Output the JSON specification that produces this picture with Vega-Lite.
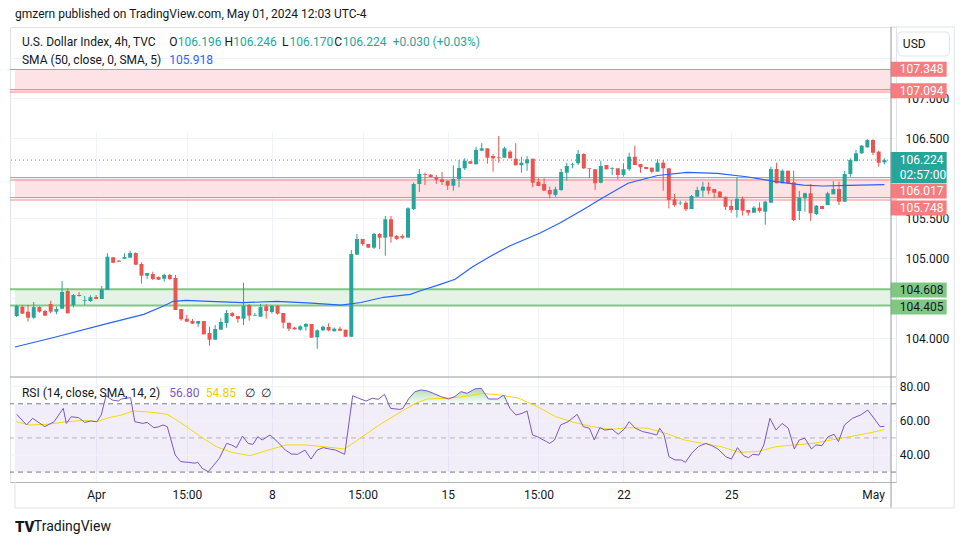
{
"$schema":"https://vega.github.io/schema/vega-lite/v6.json",
"width":886,"height":455,
"autosize":{"type":"none"},
"padding":{"left":10,"top":27,"right":74,"bottom":63},
"background":"#ffffff",
"config":{"view":{"stroke":"#e0e3eb","strokeWidth":1},"font":"Roboto","axis":{"labelFont":"Roboto"},"text":{"font":"Roboto"}},
"datasets":{
"candles":[
{"i":1,"o":104.275,"h":104.412,"l":104.262,"c":104.4},
{"i":2,"o":104.391,"h":104.406,"l":104.3,"c":104.304},
{"i":3,"o":104.329,"h":104.412,"l":104.204,"c":104.254},
{"i":4,"o":104.254,"h":104.45,"l":104.234,"c":104.387},
{"i":5,"o":104.387,"h":104.396,"l":104.316,"c":104.329},
{"i":6,"o":104.338,"h":104.35,"l":104.279,"c":104.279},
{"i":7,"o":104.425,"h":104.466,"l":104.309,"c":104.329},
{"i":8,"o":104.329,"h":104.391,"l":104.296,"c":104.362},
{"i":9,"o":104.366,"h":104.712,"l":104.366,"c":104.575},
{"i":10,"o":104.588,"h":104.621,"l":104.304,"c":104.309},
{"i":11,"o":104.412,"h":104.55,"l":104.384,"c":104.538},
{"i":12,"o":104.538,"h":104.575,"l":104.519,"c":104.525},
{"i":13,"o":104.466,"h":104.525,"l":104.412,"c":104.475},
{"i":14,"o":104.462,"h":104.534,"l":104.45,"c":104.509},
{"i":15,"o":104.512,"h":104.538,"l":104.484,"c":104.488},
{"i":16,"o":104.488,"h":104.65,"l":104.488,"c":104.609},
{"i":17,"o":104.6,"h":105.059,"l":104.6,"c":105.016},
{"i":18,"o":105.009,"h":105.012,"l":104.938,"c":104.941},
{"i":19,"o":104.966,"h":104.975,"l":104.95,"c":104.954},
{"i":20,"o":104.991,"h":105.059,"l":104.991,"c":105.012},
{"i":21,"o":105.004,"h":105.091,"l":105.004,"c":105.062},
{"i":22,"o":105.062,"h":105.071,"l":104.916,"c":104.916},
{"i":23,"o":104.925,"h":104.946,"l":104.679,"c":104.779},
{"i":24,"o":104.779,"h":104.812,"l":104.738,"c":104.812},
{"i":25,"o":104.8,"h":104.829,"l":104.725,"c":104.738},
{"i":26,"o":104.762,"h":104.769,"l":104.725,"c":104.729},
{"i":27,"o":104.741,"h":104.8,"l":104.704,"c":104.788},
{"i":28,"o":104.788,"h":104.8,"l":104.725,"c":104.738},
{"i":29,"o":104.75,"h":104.788,"l":104.35,"c":104.35},
{"i":30,"o":104.362,"h":104.362,"l":104.216,"c":104.234},
{"i":31,"o":104.241,"h":104.288,"l":104.204,"c":104.204},
{"i":32,"o":104.212,"h":104.238,"l":104.179,"c":104.179},
{"i":33,"o":104.179,"h":104.212,"l":104.141,"c":104.212},
{"i":34,"o":104.212,"h":104.212,"l":104.046,"c":104.046},
{"i":35,"o":104.062,"h":104.141,"l":103.904,"c":103.979},
{"i":36,"o":103.979,"h":104.162,"l":103.979,"c":104.112},
{"i":37,"o":104.104,"h":104.246,"l":104.104,"c":104.2},
{"i":38,"o":104.188,"h":104.35,"l":104.129,"c":104.312},
{"i":39,"o":104.312,"h":104.325,"l":104.259,"c":104.275},
{"i":40,"o":104.275,"h":104.275,"l":104.191,"c":104.238},
{"i":41,"o":104.241,"h":104.691,"l":104.162,"c":104.4},
{"i":42,"o":104.412,"h":104.425,"l":104.216,"c":104.279},
{"i":43,"o":104.279,"h":104.312,"l":104.279,"c":104.288},
{"i":44,"o":104.266,"h":104.425,"l":104.266,"c":104.387},
{"i":45,"o":104.396,"h":104.425,"l":104.241,"c":104.338},
{"i":46,"o":104.325,"h":104.412,"l":104.304,"c":104.4},
{"i":47,"o":104.4,"h":104.412,"l":104.291,"c":104.304},
{"i":48,"o":104.312,"h":104.312,"l":104.121,"c":104.191},
{"i":49,"o":104.191,"h":104.191,"l":104.087,"c":104.116},
{"i":50,"o":104.129,"h":104.141,"l":104.104,"c":104.109},
{"i":51,"o":104.104,"h":104.159,"l":104.091,"c":104.146},
{"i":52,"o":104.141,"h":104.188,"l":104.091,"c":104.175},
{"i":53,"o":104.175,"h":104.175,"l":104.004,"c":104.004},
{"i":54,"o":104.009,"h":104.109,"l":103.866,"c":104.096},
{"i":55,"o":104.096,"h":104.154,"l":104.087,"c":104.141},
{"i":56,"o":104.138,"h":104.184,"l":104.084,"c":104.096},
{"i":57,"o":104.084,"h":104.129,"l":104.084,"c":104.116},
{"i":58,"o":104.116,"h":104.141,"l":104.091,"c":104.091},
{"i":59,"o":104.104,"h":104.104,"l":104.016,"c":104.016},
{"i":60,"o":104.016,"h":105.1,"l":104.016,"c":105.05},
{"i":61,"o":105.041,"h":105.3,"l":105.041,"c":105.238},
{"i":62,"o":105.238,"h":105.238,"l":105.154,"c":105.175},
{"i":63,"o":105.175,"h":105.175,"l":105.129,"c":105.129},
{"i":64,"o":105.129,"h":105.316,"l":105.112,"c":105.3},
{"i":65,"o":105.3,"h":105.312,"l":105.112,"c":105.254},
{"i":66,"o":105.254,"h":105.525,"l":105.029,"c":105.484},
{"i":67,"o":105.484,"h":105.525,"l":105.191,"c":105.266},
{"i":68,"o":105.275,"h":105.288,"l":105.225,"c":105.238},
{"i":69,"o":105.275,"h":105.296,"l":105.238,"c":105.254},
{"i":70,"o":105.254,"h":105.634,"l":105.254,"c":105.621},
{"i":71,"o":105.612,"h":105.946,"l":105.6,"c":105.925},
{"i":72,"o":105.925,"h":106.112,"l":105.825,"c":106.05},
{"i":73,"o":106.05,"h":106.066,"l":105.912,"c":106.041},
{"i":74,"o":106.041,"h":106.05,"l":106.009,"c":106.012},
{"i":75,"o":106.012,"h":106.038,"l":105.929,"c":105.979},
{"i":76,"o":105.984,"h":106.075,"l":105.912,"c":105.95},
{"i":77,"o":105.966,"h":105.966,"l":105.85,"c":105.904},
{"i":78,"o":105.904,"h":106.159,"l":105.841,"c":105.988},
{"i":79,"o":105.988,"h":106.225,"l":105.884,"c":106.125},
{"i":80,"o":106.121,"h":106.246,"l":106.1,"c":106.216},
{"i":81,"o":106.209,"h":106.209,"l":106.179,"c":106.179},
{"i":82,"o":106.171,"h":106.391,"l":106.171,"c":106.35},
{"i":83,"o":106.341,"h":106.434,"l":106.341,"c":106.371},
{"i":84,"o":106.371,"h":106.371,"l":106.179,"c":106.254},
{"i":85,"o":106.275,"h":106.3,"l":106.079,"c":106.246},
{"i":86,"o":106.262,"h":106.525,"l":106.191,"c":106.254},
{"i":87,"o":106.254,"h":106.391,"l":106.254,"c":106.371},
{"i":88,"o":106.329,"h":106.35,"l":106.246,"c":106.246},
{"i":89,"o":106.241,"h":106.434,"l":106.159,"c":106.159},
{"i":90,"o":106.159,"h":106.266,"l":106.066,"c":106.191},
{"i":91,"o":106.184,"h":106.275,"l":106.091,"c":106.234},
{"i":92,"o":106.241,"h":106.241,"l":105.884,"c":105.941},
{"i":93,"o":105.954,"h":105.996,"l":105.9,"c":105.9},
{"i":94,"o":105.925,"h":105.996,"l":105.841,"c":105.841},
{"i":95,"o":105.85,"h":105.891,"l":105.746,"c":105.796},
{"i":96,"o":105.788,"h":105.891,"l":105.766,"c":105.859},
{"i":97,"o":105.85,"h":106.116,"l":105.838,"c":106.075},
{"i":98,"o":106.066,"h":106.191,"l":105.966,"c":106.15},
{"i":99,"o":106.162,"h":106.191,"l":106.121,"c":106.171},
{"i":100,"o":106.184,"h":106.35,"l":106.162,"c":106.3},
{"i":101,"o":106.3,"h":106.309,"l":106.112,"c":106.121},
{"i":102,"o":106.121,"h":106.121,"l":105.996,"c":106.112},
{"i":103,"o":106.109,"h":106.109,"l":105.85,"c":105.934},
{"i":104,"o":105.941,"h":106.216,"l":105.934,"c":106.15},
{"i":105,"o":106.162,"h":106.162,"l":106.109,"c":106.109},
{"i":106,"o":106.116,"h":106.134,"l":106.038,"c":106.125},
{"i":107,"o":106.121,"h":106.121,"l":105.984,"c":106.038},
{"i":108,"o":106.038,"h":106.184,"l":106.016,"c":106.109},
{"i":109,"o":106.109,"h":106.316,"l":106.091,"c":106.266},
{"i":110,"o":106.266,"h":106.404,"l":106.162,"c":106.162},
{"i":111,"o":106.175,"h":106.175,"l":106.066,"c":106.134},
{"i":112,"o":106.138,"h":106.138,"l":106.112,"c":106.112},
{"i":113,"o":106.129,"h":106.129,"l":106.059,"c":106.079},
{"i":114,"o":106.079,"h":106.234,"l":106.079,"c":106.191},
{"i":115,"o":106.191,"h":106.225,"l":105.841,"c":106.121},
{"i":116,"o":106.121,"h":106.121,"l":105.621,"c":105.725},
{"i":117,"o":105.734,"h":105.8,"l":105.641,"c":105.662},
{"i":118,"o":105.684,"h":105.716,"l":105.662,"c":105.691},
{"i":119,"o":105.691,"h":105.712,"l":105.588,"c":105.609},
{"i":120,"o":105.612,"h":105.788,"l":105.612,"c":105.775},
{"i":121,"o":105.766,"h":105.891,"l":105.766,"c":105.85},
{"i":122,"o":105.841,"h":105.954,"l":105.766,"c":105.891},
{"i":123,"o":105.891,"h":105.946,"l":105.796,"c":105.841},
{"i":124,"o":105.862,"h":105.862,"l":105.746,"c":105.816},
{"i":125,"o":105.829,"h":105.838,"l":105.754,"c":105.754},
{"i":126,"o":105.766,"h":105.766,"l":105.6,"c":105.641},
{"i":127,"o":105.65,"h":105.725,"l":105.566,"c":105.6},
{"i":128,"o":105.6,"h":106.004,"l":105.504,"c":105.741},
{"i":129,"o":105.741,"h":105.766,"l":105.529,"c":105.591},
{"i":130,"o":105.6,"h":105.6,"l":105.529,"c":105.566},
{"i":131,"o":105.566,"h":105.65,"l":105.566,"c":105.629},
{"i":132,"o":105.629,"h":105.696,"l":105.566,"c":105.588},
{"i":133,"o":105.579,"h":105.716,"l":105.416,"c":105.704},
{"i":134,"o":105.691,"h":106.141,"l":105.691,"c":106.112},
{"i":135,"o":106.112,"h":106.191,"l":105.934,"c":105.934},
{"i":136,"o":105.934,"h":106.109,"l":105.934,"c":106.091},
{"i":137,"o":106.091,"h":106.091,"l":105.934,"c":105.934},
{"i":138,"o":105.946,"h":106.091,"l":105.462,"c":105.475},
{"i":139,"o":105.588,"h":105.838,"l":105.475,"c":105.754},
{"i":140,"o":105.746,"h":105.816,"l":105.579,"c":105.809},
{"i":141,"o":105.809,"h":105.925,"l":105.466,"c":105.559},
{"i":142,"o":105.55,"h":105.662,"l":105.537,"c":105.654},
{"i":143,"o":105.65,"h":105.65,"l":105.612,"c":105.612},
{"i":144,"o":105.662,"h":105.829,"l":105.662,"c":105.809},
{"i":145,"o":105.796,"h":105.962,"l":105.796,"c":105.862},
{"i":146,"o":105.862,"h":105.954,"l":105.662,"c":105.704},
{"i":147,"o":105.704,"h":106.088,"l":105.704,"c":106.05},
{"i":148,"o":106.05,"h":106.246,"l":106.016,"c":106.225},
{"i":149,"o":106.212,"h":106.35,"l":106.204,"c":106.309},
{"i":150,"o":106.309,"h":106.412,"l":106.3,"c":106.404},
{"i":151,"o":106.384,"h":106.484,"l":106.379,"c":106.475},
{"i":152,"o":106.475,"h":106.484,"l":106.287,"c":106.316},
{"i":153,"o":106.329,"h":106.341,"l":106.141,"c":106.191},
{"i":154,"o":106.196,"h":106.246,"l":106.17,"c":106.224}
],
"sma":[
{"i":0.7,"v":103.888},{"i":7.7,"v":104.009},{"i":16.4,"v":104.171},{"i":23.4,"v":104.296},{"i":26.9,"v":104.4},{"i":28.6,"v":104.459},{"i":30.9,"v":104.471},{"i":33.8,"v":104.462},{"i":40.8,"v":104.441},{"i":46.9,"v":104.459},{"i":53.0,"v":104.437},{"i":58.2,"v":104.412},{"i":61.7,"v":104.444},{"i":65.7,"v":104.509},{"i":70.4,"v":104.546},{"i":72.2,"v":104.591},{"i":75.7,"v":104.671},{"i":78.3,"v":104.734},{"i":81.4,"v":104.891},{"i":84.4,"v":105.016},{"i":87.9,"v":105.15},{"i":93.2,"v":105.309},{"i":96.7,"v":105.434},{"i":101.0,"v":105.61},{"i":104.2,"v":105.746},{"i":108.8,"v":105.934},{"i":114.0,"v":106.031},{"i":119.2,"v":106.071},{"i":124.5,"v":106.059},{"i":129.7,"v":106.016},{"i":134.9,"v":105.954},{"i":139.7,"v":105.912},{"i":143.2,"v":105.9},{"i":147.7,"v":105.909},{"i":154,"v":105.918}
],
"rsi":[
{"i":1,"v":63.8},{"i":2.74,"v":57.6},{"i":3.81,"v":61.5},{"i":5.97,"v":56.6},{"i":7.59,"v":59.5},{"i":9.21,"v":67.3},{"i":9.75,"v":58.5},{"i":10.61,"v":62.4},{"i":11.91,"v":61.9},{"i":12.99,"v":59.1},{"i":14.06,"v":59.9},{"i":15.14,"v":59.5},{"i":15.9,"v":63.4},{"i":16.76,"v":74.7},{"i":17.84,"v":72.2},{"i":18.92,"v":71.6},{"i":19.46,"v":72.8},{"i":21.08,"v":73.6},{"i":21.83,"v":59.5},{"i":23.23,"v":58.5},{"i":23.99,"v":59.1},{"i":25.18,"v":56.0},{"i":25.93,"v":56.4},{"i":26.79,"v":57.6},{"i":27.55,"v":56.6},{"i":28.95,"v":40.0},{"i":29.92,"v":36.1},{"i":31.33,"v":35.7},{"i":32.4,"v":35.2},{"i":32.94,"v":35.7},{"i":33.7,"v":32.2},{"i":34.78,"v":30.2},{"i":36.72,"v":38.0},{"i":38.02,"v":46.8},{"i":38.88,"v":45.9},{"i":39.74,"v":44.3},{"i":40.82,"v":51.1},{"i":41.79,"v":46.8},{"i":42.65,"v":46.2},{"i":43.52,"v":50.7},{"i":44.27,"v":48.8},{"i":45.67,"v":51.7},{"i":46.97,"v":47.8},{"i":48.37,"v":42.9},{"i":49.45,"v":40.6},{"i":50.53,"v":40.4},{"i":51.82,"v":42.9},{"i":52.9,"v":37.6},{"i":53.98,"v":42.9},{"i":55.06,"v":44.3},{"i":56.14,"v":43.5},{"i":57.22,"v":42.9},{"i":58.84,"v":40.4},{"i":60.24,"v":74.7},{"i":61.32,"v":73.2},{"i":62.61,"v":71.6},{"i":63.69,"v":73.2},{"i":64.77,"v":72.6},{"i":65.85,"v":75.5},{"i":66.93,"v":67.3},{"i":68.55,"v":66.7},{"i":69.09,"v":67.3},{"i":70.17,"v":73.2},{"i":71.24,"v":77.1},{"i":72.32,"v":78.1},{"i":73.4,"v":77.5},{"i":74.48,"v":76.1},{"i":75.78,"v":74.2},{"i":77.18,"v":72.8},{"i":78.26,"v":74.2},{"i":79.34,"v":77.1},{"i":80.41,"v":76.1},{"i":81.82,"v":78.7},{"i":82.9,"v":79.1},{"i":84.19,"v":72.8},{"i":85.81,"v":72.8},{"i":86.89,"v":75.1},{"i":87.97,"v":67.3},{"i":89.04,"v":63.4},{"i":90.12,"v":64.4},{"i":90.99,"v":65.8},{"i":91.96,"v":51.7},{"i":92.82,"v":50.7},{"i":94.44,"v":47.8},{"i":94.98,"v":46.8},{"i":95.84,"v":48.8},{"i":96.92,"v":57.6},{"i":98.22,"v":59.5},{"i":99.83,"v":63.8},{"i":100.91,"v":56.6},{"i":101.99,"v":55.7},{"i":102.85,"v":48.8},{"i":103.83,"v":56.0},{"i":104.69,"v":54.6},{"i":105.98,"v":55.2},{"i":107.06,"v":52.1},{"i":108.14,"v":55.2},{"i":109.0,"v":59.5},{"i":110.08,"v":55.7},{"i":111.38,"v":53.7},{"i":112.78,"v":52.7},{"i":113.86,"v":51.7},{"i":114.4,"v":55.7},{"i":115.16,"v":51.7},{"i":116.02,"v":39.0},{"i":117.09,"v":37.1},{"i":118.17,"v":37.1},{"i":118.93,"v":35.7},{"i":120.01,"v":41.0},{"i":121.2,"v":44.9},{"i":122.49,"v":46.8},{"i":123.57,"v":45.5},{"i":124.65,"v":43.5},{"i":126.05,"v":39.0},{"i":127.02,"v":37.6},{"i":128.1,"v":44.3},{"i":129.18,"v":39.6},{"i":130.04,"v":38.4},{"i":130.8,"v":40.4},{"i":131.88,"v":40.0},{"i":132.74,"v":45.9},{"i":133.82,"v":61.5},{"i":134.9,"v":54.6},{"i":135.97,"v":58.5},{"i":137.05,"v":55.7},{"i":138.13,"v":43.5},{"i":138.99,"v":48.8},{"i":139.97,"v":49.8},{"i":141.15,"v":43.5},{"i":141.91,"v":45.9},{"i":142.99,"v":45.5},{"i":144.07,"v":50.7},{"i":145.15,"v":52.1},{"i":145.9,"v":47.8},{"i":146.98,"v":57.6},{"i":148.38,"v":61.5},{"i":149.79,"v":63.4},{"i":151.08,"v":66.3},{"i":152.38,"v":60.5},{"i":153.24,"v":56.6},{"i":154,"v":56.8}
],
"rsima":[
{"i":0.9,"v":59.5},{"i":3.28,"v":57.6},{"i":6.51,"v":58.0},{"i":9.75,"v":59.5},{"i":12.99,"v":60.3},{"i":15.14,"v":59.5},{"i":17.3,"v":61.9},{"i":19.46,"v":63.4},{"i":21.62,"v":65.8},{"i":24.85,"v":65.0},{"i":27.55,"v":63.8},{"i":29.17,"v":60.5},{"i":31.33,"v":55.7},{"i":33.48,"v":50.7},{"i":36.18,"v":44.9},{"i":38.88,"v":41.6},{"i":42.11,"v":39.6},{"i":45.35,"v":42.9},{"i":48.59,"v":45.9},{"i":51.82,"v":45.9},{"i":55.06,"v":44.9},{"i":58.84,"v":43.5},{"i":61.53,"v":49.8},{"i":64.77,"v":57.2},{"i":68.0,"v":63.8},{"i":71.24,"v":70.2},{"i":73.4,"v":72.8},{"i":76.64,"v":73.2},{"i":79.87,"v":74.2},{"i":83.11,"v":76.1},{"i":86.35,"v":75.1},{"i":89.58,"v":73.2},{"i":92.82,"v":68.3},{"i":96.06,"v":62.4},{"i":99.29,"v":59.1},{"i":102.53,"v":56.6},{"i":105.77,"v":55.0},{"i":109.0,"v":56.0},{"i":112.24,"v":55.7},{"i":115.48,"v":52.7},{"i":118.71,"v":48.8},{"i":121.95,"v":46.8},{"i":125.18,"v":44.9},{"i":128.42,"v":41.6},{"i":131.66,"v":42.0},{"i":134.9,"v":44.9},{"i":138.13,"v":45.9},{"i":141.37,"v":46.8},{"i":144.61,"v":48.8},{"i":147.84,"v":50.7},{"i":151.08,"v":52.7},{"i":154,"v":54.85}
],
"ob":[
{"i":69.6,"v":70},{"i":70.17,"v":73.2},{"i":71.24,"v":77.1},{"i":72.32,"v":78.1},{"i":73.4,"v":77.5},{"i":74.48,"v":76.1},{"i":75.78,"v":74.2},{"i":77.18,"v":72.8},{"i":78.26,"v":74.2},{"i":79.34,"v":77.1},{"i":80.41,"v":76.1},{"i":81.82,"v":78.7},{"i":82.9,"v":79.1},{"i":84.19,"v":72.8},{"i":85.81,"v":72.8},{"i":86.89,"v":75.1},{"i":87.6,"v":70}
],
"zones":[{"lo":107.09,"hi":107.356,"k":"r"},{"lo":105.74,"hi":105.99,"k":"r"},{"lo":104.405,"hi":104.608,"k":"g"}],
"zlines":[{"v":107.356,"k":"r"},{"v":107.104,"k":"r"},{"v":107.075,"k":"r"},{"v":106.006,"k":"r"},{"v":105.975,"k":"r"},{"v":105.756,"k":"r"},{"v":105.725,"k":"r"},{"v":104.608,"k":"g"},{"v":104.405,"k":"g"}],
"tags":[{"y":107.36,"t":"107.348","k":"r"},{"y":107.09,"t":"107.094","k":"r"},{"y":105.8375,"t":"106.017","k":"r"},{"y":105.625,"t":"105.748","k":"r"},{"y":104.6,"t":"104.608","k":"g"},{"y":104.3875,"t":"104.405","k":"g"}]
},
"layer":[
{"layer":[
{"data":{"name":"candles"},"mark":{"type":"rule","strokeWidth":1,"opacity":0},
 "encoding":{
  "x":{"field":"i","type":"quantitative","scale":{"domain":[0.7,155.17],"nice":false,"zero":false},
   "axis":{"values":[15,31,46,62,77,93,108,127,152],"labelExpr":"datum.value==15?'Apr':datum.value==31?'15:00':datum.value==46?'8':datum.value==62?'15:00':datum.value==77?'15':datum.value==93?'15:00':datum.value==108?'22':datum.value==127?'25':'May'","grid":true,"gridColor":"#f0f3fa","ticks":false,"domain":true,"domainColor":"#b2b5be","labelColor":"#131722","labelFontSize":12,"labelPadding":7,"title":null,"labelFlush":false,"labelOverlap":false}},
  "y":{"field":"l","type":"quantitative","scale":{"domain":[103.5125,107.8875],"range":[350,0],"nice":false,"zero":false},
   "axis":{"orient":"right","values":[104,104.5,105,105.5,106,106.5,107,107.5],"labelExpr":"(datum.value==104.5||datum.value==106||datum.value==107.5)?'':format(datum.value,'.3f')","grid":true,"gridColor":"#f0f3fa","ticks":false,"domain":false,"labelColor":"#131722","labelFontSize":12,"labelPadding":9,"title":null,"labelFlush":false,"labelOverlap":false}},
  "y2":{"field":"h"}}},
{"data":{"name":"zones"},"mark":{"type":"rect"},
 "encoding":{"x":{"datum":0.7,"type":"quantitative"},"x2":{"datum":155.17},
  "y":{"field":"lo","type":"quantitative"},"y2":{"field":"hi"},
  "color":{"condition":{"test":"datum.k=='g'","value":"#e4f3e5"},"value":"#fde3e5"}}},
{"data":{"name":"zlines"},"mark":{"type":"rule"},
 "encoding":{"y":{"field":"v","type":"quantitative"},
  "color":{"condition":{"test":"datum.k=='g'","value":"#81c784"},"value":"#f7868a"},
  "strokeWidth":{"condition":{"test":"datum.k=='g'","value":2},"value":1.2}}},
{"data":{"values":[{}]},"mark":{"type":"rule","color":"#26a69a","strokeDash":[1,3],"strokeWidth":1},
 "encoding":{"y":{"datum":106.224,"type":"quantitative"}}},
{"data":{"name":"candles"},"mark":{"type":"rule","strokeWidth":1},
 "encoding":{"x":{"field":"i","type":"quantitative"},
  "y":{"field":"l","type":"quantitative"},"y2":{"field":"h"},
  "color":{"condition":{"test":"datum.c>=datum.o","value":"#26a69a"},"value":"#ef5350"}}},
{"data":{"name":"candles"},"mark":{"type":"bar","size":4},
 "encoding":{"x":{"field":"i","type":"quantitative"},
  "y":{"field":"o","type":"quantitative"},"y2":{"field":"c"},
  "color":{"condition":{"test":"datum.c>=datum.o","value":"#26a69a"},"value":"#ef5350"}}},
{"data":{"name":"sma"},"mark":{"type":"line","color":"#2962ff","strokeWidth":1.2},
 "encoding":{"x":{"field":"i","type":"quantitative"},"y":{"field":"v","type":"quantitative"}}},
{"data":{"values":[{}]},"mark":{"type":"rule","color":"#9598a1","strokeWidth":1},
 "encoding":{"y":{"datum":103.5125,"type":"quantitative"}}},
{"data":{"values":[{}]},"mark":{"type":"rule","color":"#e0e3eb","strokeWidth":1},
 "encoding":{"x":{"datum":155.17,"type":"quantitative"},"x2":{"datum":166.32},"y":{"datum":107.8875,"type":"quantitative"}}},
{"data":{"values":[{}]},"mark":{"type":"rect","fill":"#ffffff","stroke":"#e0e3eb","strokeWidth":1,"cornerRadius":4},
 "encoding":{"x":{"datum":156.38,"type":"quantitative"},"x2":{"datum":165.45},"y":{"datum":107.825,"type":"quantitative"},"y2":{"datum":107.525}}},
{"data":{"values":[{}]},"mark":{"type":"text","text":"USD","align":"left","baseline":"middle","fontSize":12,"color":"#131722"},
 "encoding":{"x":{"datum":157.26,"type":"quantitative"},"y":{"datum":107.675,"type":"quantitative"}}},
{"data":{"name":"tags"},"mark":{"type":"tick","orient":"horizontal","size":56,"thickness":15,"opacity":1},
 "encoding":{"x":{"datum":160.05,"type":"quantitative"},"y":{"field":"y","type":"quantitative"},
  "color":{"condition":{"test":"datum.k=='g'","value":"#81c784"},"value":"#f77c80"}}},
{"data":{"values":[{}]},"mark":{"type":"tick","orient":"horizontal","size":56,"thickness":31,"opacity":1,"color":"#26a69a"},
 "encoding":{"x":{"datum":160.05,"type":"quantitative"},"y":{"datum":106.131,"type":"quantitative"}}},
{"data":{"name":"tags"},"mark":{"type":"text","align":"left","baseline":"middle","fontSize":12},
 "encoding":{"x":{"datum":156.73,"type":"quantitative"},"y":{"field":"y","type":"quantitative"},"text":{"field":"t"},
  "color":{"condition":{"test":"datum.k=='g'","value":"#131722"},"value":"#ffffff"}}},
{"data":{"values":[{}]},"mark":{"type":"text","text":"106.224","align":"left","baseline":"middle","fontSize":12,"color":"#ffffff"},
 "encoding":{"x":{"datum":156.73,"type":"quantitative"},"y":{"datum":106.225,"type":"quantitative"}}},
{"data":{"values":[{}]},"mark":{"type":"text","text":"02:57:00","align":"left","baseline":"middle","fontSize":12,"color":"#ffffff"},
 "encoding":{"x":{"datum":156.73,"type":"quantitative"},"y":{"datum":106.035,"type":"quantitative"}}},
{"data":{"values":[{}]},"mark":{"type":"text","text":"gmzern published on TradingView.com, May 01, 2024 12:03 UTC-4","align":"left","baseline":"middle","fontSize":12,"color":"#131722"},
 "encoding":{"x":{"datum":0.704,"type":"quantitative"},"y":{"datum":108.05,"type":"quantitative"}}},
{"data":{"values":[{}]},"mark":{"type":"text","text":"U.S. Dollar Index, 4h, TVC","align":"left","baseline":"middle","fontSize":12,"color":"#131722"},
 "encoding":{"x":{"datum":1.92,"type":"quantitative"},"y":{"datum":107.7,"type":"quantitative"}}},
{"data":{"values":[{}]},"mark":{"type":"text","text":"O","align":"left","baseline":"middle","fontSize":12,"color":"#131722"},
 "encoding":{"x":{"datum":27.9,"type":"quantitative"},"y":{"datum":107.7,"type":"quantitative"}}},
{"data":{"values":[{}]},"mark":{"type":"text","text":"106.196","align":"left","baseline":"middle","fontSize":12,"color":"#26a69a"},
 "encoding":{"x":{"datum":29.41,"type":"quantitative"},"y":{"datum":107.7,"type":"quantitative"}}},
{"data":{"values":[{}]},"mark":{"type":"text","text":"H","align":"left","baseline":"middle","fontSize":12,"color":"#131722"},
 "encoding":{"x":{"datum":37.66,"type":"quantitative"},"y":{"datum":107.7,"type":"quantitative"}}},
{"data":{"values":[{}]},"mark":{"type":"text","text":"106.246","align":"left","baseline":"middle","fontSize":12,"color":"#26a69a"},
 "encoding":{"x":{"datum":39.17,"type":"quantitative"},"y":{"datum":107.7,"type":"quantitative"}}},
{"data":{"values":[{}]},"mark":{"type":"text","text":"L","align":"left","baseline":"middle","fontSize":12,"color":"#131722"},
 "encoding":{"x":{"datum":47.77,"type":"quantitative"},"y":{"datum":107.7,"type":"quantitative"}}},
{"data":{"values":[{}]},"mark":{"type":"text","text":"106.170","align":"left","baseline":"middle","fontSize":12,"color":"#26a69a"},
 "encoding":{"x":{"datum":49.11,"type":"quantitative"},"y":{"datum":107.7,"type":"quantitative"}}},
{"data":{"values":[{}]},"mark":{"type":"text","text":"C","align":"left","baseline":"middle","fontSize":12,"color":"#131722"},
 "encoding":{"x":{"datum":57.01,"type":"quantitative"},"y":{"datum":107.7,"type":"quantitative"}}},
{"data":{"values":[{}]},"mark":{"type":"text","text":"106.224","align":"left","baseline":"middle","fontSize":12,"color":"#26a69a"},
 "encoding":{"x":{"datum":58.5,"type":"quantitative"},"y":{"datum":107.7,"type":"quantitative"}}},
{"data":{"values":[{}]},"mark":{"type":"text","text":"+0.030 (+0.03%)","align":"left","baseline":"middle","fontSize":12,"color":"#26a69a"},
 "encoding":{"x":{"datum":67.3,"type":"quantitative"},"y":{"datum":107.7,"type":"quantitative"}}},
{"data":{"values":[{}]},"mark":{"type":"text","text":"SMA (50, close, 0, SMA, 5)","align":"left","baseline":"middle","fontSize":12,"color":"#131722"},
 "encoding":{"x":{"datum":1.92,"type":"quantitative"},"y":{"datum":107.475,"type":"quantitative"}}},
{"data":{"values":[{}]},"mark":{"type":"text","text":"105.918","align":"left","baseline":"middle","fontSize":12,"color":"#2962ff"},
 "encoding":{"x":{"datum":27.9,"type":"quantitative"},"y":{"datum":107.475,"type":"quantitative"}}}
]},
{"layer":[
{"data":{"values":[{}]},"mark":{"type":"rect","color":"#7e57c2","opacity":0.1},
 "encoding":{"x":{"datum":0.7,"type":"quantitative"},"x2":{"datum":155.17},"y":{"datum":30,"type":"quantitative","axis":null},"y2":{"datum":70}}},
{"data":{"values":[{"v":80},{"v":60},{"v":40}]},"mark":{"type":"rule","color":"#f0f3fa","strokeWidth":1},
 "encoding":{"y":{"field":"v","type":"quantitative","axis":null}}},
{"data":{"values":[{"v":70},{"v":30}]},"mark":{"type":"rule","color":"#787b86","strokeDash":[5,4],"strokeWidth":1},
 "encoding":{"y":{"field":"v","type":"quantitative","axis":null}}},
{"data":{"values":[{"v":50}]},"mark":{"type":"rule","color":"#787b86","opacity":0.5,"strokeDash":[5,4],"strokeWidth":1},
 "encoding":{"y":{"field":"v","type":"quantitative","axis":null}}},
{"data":{"name":"ob"},"mark":{"type":"area","color":{"gradient":"linear","x1":0,"y1":0,"x2":0,"y2":1,"stops":[{"offset":0,"color":"rgba(76,175,80,0.45)"},{"offset":1,"color":"rgba(76,175,80,0.03)"}]}},
 "encoding":{"x":{"field":"i","type":"quantitative"},"y":{"field":"v","type":"quantitative","axis":null},"y2":{"datum":70}}},
{"data":{"name":"rsima"},"mark":{"type":"line","color":"#f5d90a","strokeWidth":1},
 "encoding":{"x":{"field":"i","type":"quantitative"},"y":{"field":"v","type":"quantitative","axis":null}}},
{"data":{"name":"rsi"},"mark":{"type":"line","color":"#7e57c2","strokeWidth":1},
 "encoding":{"x":{"field":"i","type":"quantitative"},
  "y":{"field":"v","type":"quantitative","scale":{"domain":[24.19,85.68],"range":[455,350],"nice":false,"zero":false},"axis":null}}},
{"data":{"values":[{}]},"mark":{"type":"rule","color":"#9598a1","strokeWidth":1},
 "encoding":{"x":{"datum":155.17,"type":"quantitative"},"y":{"datum":290.7,"type":"quantitative","axis":null},"y2":{"datum":8.96}}},
{"data":{"values":[{}]},"mark":{"type":"rule","color":"#e0e3eb","strokeWidth":1},
 "encoding":{"x":{"datum":166.32,"type":"quantitative"},"y":{"datum":290.7,"type":"quantitative","axis":null},"y2":{"datum":8.96}}},
{"data":{"values":[{}]},"mark":{"type":"rule","color":"#e0e3eb","strokeWidth":1},
 "encoding":{"x":{"datum":0.7,"type":"quantitative"},"x2":{"datum":166.32},"y":{"datum":8.96,"type":"quantitative","axis":null}}},
{"data":{"values":[{}]},"mark":{"type":"rule","color":"#e0e3eb","strokeWidth":1},
 "encoding":{"x":{"datum":0.7,"type":"quantitative"},"y":{"datum":24.19,"type":"quantitative","axis":null},"y2":{"datum":8.96}}},
{"data":{"values":[{"v":80,"t":"80.00"},{"v":60,"t":"60.00"},{"v":40,"t":"40.00"}]},"mark":{"type":"text","align":"left","baseline":"middle","fontSize":12,"color":"#131722"},
 "encoding":{"x":{"datum":156.73,"type":"quantitative"},"y":{"field":"v","type":"quantitative","axis":null},"text":{"field":"t"}}},
{"data":{"values":[{}]},"mark":{"type":"text","text":"RSI (14, close, SMA, 14, 2)","align":"left","baseline":"middle","fontSize":12,"color":"#131722"},
 "encoding":{"x":{"datum":1.92,"type":"quantitative"},"y":{"datum":76.3,"type":"quantitative","axis":null}}},
{"data":{"values":[{}]},"mark":{"type":"text","text":"56.80","align":"left","baseline":"middle","fontSize":12,"color":"#7e57c2"},
 "encoding":{"x":{"datum":27.9,"type":"quantitative"},"y":{"datum":76.3,"type":"quantitative","axis":null}}},
{"data":{"values":[{}]},"mark":{"type":"text","text":"54.85","align":"left","baseline":"middle","fontSize":12,"color":"#eccb0c"},
 "encoding":{"x":{"datum":34.35,"type":"quantitative"},"y":{"datum":76.3,"type":"quantitative","axis":null}}},
{"data":{"values":[{}]},"mark":{"type":"text","text":"∅","align":"left","baseline":"middle","fontSize":12,"color":"#131722"},
 "encoding":{"x":{"datum":41.26,"type":"quantitative"},"y":{"datum":76.3,"type":"quantitative","axis":null}}},
{"data":{"values":[{}]},"mark":{"type":"text","text":"∅","align":"left","baseline":"middle","fontSize":12,"color":"#131722"},
 "encoding":{"x":{"datum":44.07,"type":"quantitative"},"y":{"datum":76.3,"type":"quantitative","axis":null}}},
{"data":{"values":[{}]},"mark":{"type":"text","text":"TV","align":"left","baseline":"middle","fontSize":15,"fontWeight":900,"color":"#131722"},
 "encoding":{"x":{"datum":0.704,"type":"quantitative"},"y":{"datum":-2.17,"type":"quantitative","axis":null}}},
{"data":{"values":[{}]},"mark":{"type":"text","text":"TradingView","align":"left","baseline":"middle","fontSize":14,"color":"#131722"},
 "encoding":{"x":{"datum":4.02,"type":"quantitative"},"y":{"datum":-2.17,"type":"quantitative","axis":null}}}
]}
],
"resolve":{"scale":{"y":"independent"}}
}
